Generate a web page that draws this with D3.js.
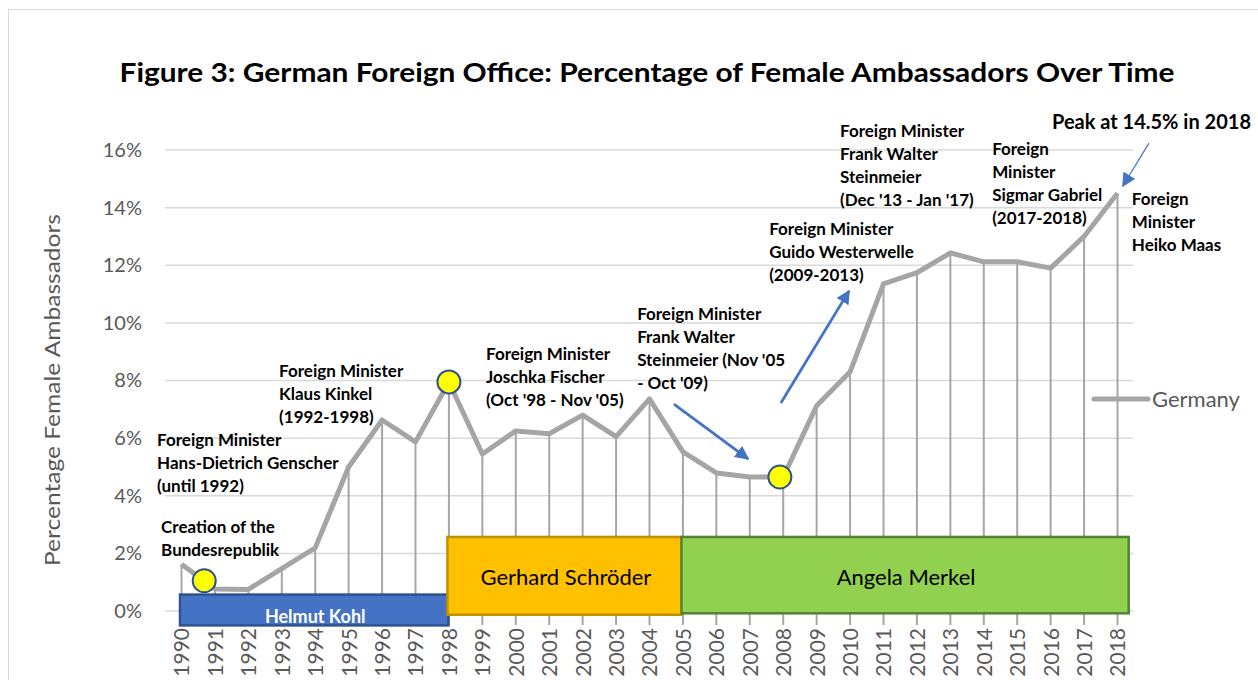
<!DOCTYPE html>
<html>
<head>
<meta charset="utf-8">
<script src="https://cdn.jsdelivr.net/npm/d3@7"></script>
<style>
  body { margin: 0; background: #fff; }
  svg { display: block; font-family: Lato, "Open Sans", sans-serif; }
  .note { font-weight: bold; fill: #000; }
</style>
</head>
<body>
<div id="chart"></div>
<script>
var svgWidth = 1258;
var svgHeight = 680;

// data
var years = [1990, 1991, 1992, 1993, 1994, 1995, 1996, 1997, 1998, 1999,
             2000, 2001, 2002, 2003, 2004, 2005, 2006, 2007, 2008, 2009,
             2010, 2011, 2012, 2013, 2014, 2015, 2016, 2017, 2018];
var germany = [1.62, 0.76, 0.75, 1.47, 2.19, 5.0, 6.63, 5.87, 7.95, 5.45,
               6.25, 6.15, 6.8, 6.05, 7.36, 5.52, 4.79, 4.65, 4.65, 7.12,
               8.3, 11.35, 11.74, 12.43, 12.12, 12.12, 11.9, 13.0, 14.5];
var yTicks = [0, 2, 4, 6, 8, 10, 12, 14, 16];

// chancellor terms
var termNames = ["Helmut Kohl", "Gerhard Schröder", "Angela Merkel"];
var termStart = [1990, 1998, 2005];
var termEnd = [1998, 2005, 2018.35];

// highlighted points
var markerYears = [1990.68, 1998, 2007.9];
var markerValues = [1.05, 7.95, 4.65];

// foreign minister notes
var noteLines = [
  ["Creation of the", "Bundesrepublik"],
  ["Foreign Minister", "Hans-Dietrich Genscher", "(until 1992)"],
  ["Foreign Minister", "Klaus Kinkel", "(1992-1998)"],
  ["Foreign Minister", "Joschka Fischer", "(Oct '98 - Nov '05)"],
  ["Foreign Minister", "Frank Walter", "Steinmeier (Nov '05", "- Oct '09)"],
  ["Foreign Minister", "Guido Westerwelle", "(2009-2013)"],
  ["Foreign Minister", "Frank Walter", "Steinmeier", "(Dec '13 - Jan '17)"],
  ["Foreign", "Minister", "Sigmar Gabriel", "(2017-2018)"],
  ["Peak at 14.5% in 2018"],
  ["Foreign", "Minister", "Heiko Maas"]
];
var noteYear = [1989.39, 1989.27, 1992.92, 1999.11, 2003.63, 2007.58, 2009.70, 2014.25, 2016.04, 2018.43];
var noteValue = [2.71, 5.73, 8.12, 8.71, 10.10, 13.05, 16.45, 15.83, 16.73, 14.09];

// arrows: [year, value] start -> end
var arrowFrom = [[2004.73, 7.18], [2007.93, 7.22], [2018.94, 16.24]];
var arrowTo = [[2006.95, 5.28], [2009.97, 11.11], [2018.16, 14.75]];

var svg = d3.select("#chart")
  .append("svg")
  .attr("width", svgWidth)
  .attr("height", svgHeight);

svg.append("defs").append("marker")
  .attr("id", "head")
  .attr("viewBox", "0 0 10 10")
  .attr("refX", 9)
  .attr("refY", 5)
  .attr("markerWidth", 5)
  .attr("markerHeight", 5)
  .attr("markerUnits", "strokeWidth")
  .attr("orient", "auto")
  .append("path")
  .attr("d", "M0,0 L10,5 L0,10 z")
  .attr("fill", "#4472c4");

svg.append("defs").append("marker")
  .attr("id", "headBig")
  .attr("viewBox", "0 0 10 10")
  .attr("refX", 9)
  .attr("refY", 5)
  .attr("markerWidth", 14)
  .attr("markerHeight", 14)
  .attr("markerUnits", "userSpaceOnUse")
  .attr("orient", "auto")
  .append("path")
  .attr("d", "M0,0 L10,5 L0,10 z")
  .attr("fill", "#4472c4");

// chart frame
svg.append("rect")
  .attr("x", 8.5).attr("y", 9.5)
  .attr("width", 1270).attr("height", 700)
  .attr("fill", "none")
  .attr("stroke", "#d9d9d9");

var x = d3.scaleLinear().domain([1990, 2018]).range([181.5, 1117.5]);
var y = d3.scaleLinear().domain([0, 16]).range([611, 150]);

// title
svg.append("text")
  .attr("x", 647)
  .attr("y", 82)
  .attr("text-anchor", "middle")
  .attr("font-size", 27)
  .attr("font-weight", "bold")
  .attr("textLength", 1055)
  .attr("lengthAdjust", "spacingAndGlyphs")
  .text("Figure 3: German Foreign Office: Percentage of Female Ambassadors Over Time");

// gridlines
svg.append("g")
  .selectAll("line")
  .data(yTicks)
  .enter()
  .append("line")
  .attr("x1", 165).attr("x2", 1133)
  .attr("y1", d => y(d)).attr("y2", d => y(d))
  .attr("stroke", "#d9d9d9")
  .attr("stroke-width", 1.5);

// y axis labels
var leftAxis = d3.axisLeft(y).tickValues(yTicks).tickFormat(d => d + "%").tickSize(0).tickPadding(0);
var yAxisG = svg.append("g")
  .attr("transform", "translate(142,0)")
  .call(leftAxis);
yAxisG.select(".domain").remove();
yAxisG.selectAll("text")
  .attr("font-family", "Lato, 'Open Sans', sans-serif")
  .attr("font-size", 20)
  .attr("fill", "#595959");

svg.append("text")
  .attr("transform", "translate(53,390) rotate(-90)")
  .attr("text-anchor", "middle")
  .attr("dy", "0.35em")
  .attr("font-size", 21)
  .attr("fill", "#595959")
  .attr("textLength", 352)
  .attr("lengthAdjust", "spacingAndGlyphs")
  .text("Percentage Female Ambassadors");

// x axis labels
var bottomAxis = d3.axisBottom(x).tickValues(years).tickFormat(d3.format("d")).tickSize(0);
var xAxisG = svg.append("g")
  .attr("transform", "translate(0,628)")
  .call(bottomAxis);
xAxisG.select(".domain").remove();
xAxisG.selectAll("text")
  .attr("font-family", "Lato, 'Open Sans', sans-serif")
  .attr("font-size", 21)
  .attr("fill", "#595959")
  .attr("text-anchor", "end")
  .attr("transform", "rotate(-90)")
  .attr("x", 0)
  .attr("y", 0)
  .attr("dx", 0)
  .attr("dy", "0.35em");

// drop lines
svg.append("g")
  .selectAll("line")
  .data(years)
  .enter()
  .append("line")
  .attr("x1", d => x(d)).attr("x2", d => x(d))
  .attr("y1", (d, i) => y(germany[i]))
  .attr("y2", y(0) + 14)
  .attr("stroke", "#a6a6a6")
  .attr("stroke-width", 2);

// series line
var line = d3.line()
  .x((d, i) => x(years[i]))
  .y(d => y(d));

svg.append("path")
  .datum(germany)
  .attr("d", line)
  .attr("fill", "none")
  .attr("stroke", "#a5a5a5")
  .attr("stroke-width", 5)
  .attr("stroke-linejoin", "round");

// term boxes
var termTop = [0.57, 2.57, 2.57];
var termBottom = [-0.5, -0.13, -0.08];
var termFill = ["#4472c4", "#ffc000", "#92d050"];
var termStroke = ["#2f528f", "#bf9000", "#548235"];
var boxes = svg.append("g").selectAll("g")
  .data(termNames)
  .enter()
  .append("g");

boxes.append("rect")
  .attr("x", (d, i) => x(termStart[i]) - 1.5)
  .attr("y", (d, i) => y(termTop[i]))
  .attr("width", (d, i) => x(termEnd[i]) - x(termStart[i]) + 1)
  .attr("height", (d, i) => y(termBottom[i]) - y(termTop[i]))
  .attr("fill", (d, i) => termFill[i])
  .attr("stroke", (d, i) => termStroke[i])
  .attr("stroke-width", 2.5);

boxes.append("text")
  .attr("x", (d, i) => (x(termStart[i]) + x(termEnd[i])) / 2)
  .attr("y", (d, i) => i === 0 ? 623 : 585)
  .attr("text-anchor", "middle")
  .attr("font-size", (d, i) => i === 0 ? 18 : 22)
  .attr("font-weight", (d, i) => i === 0 ? "bold" : "normal")
  .attr("fill", (d, i) => i === 0 ? "#fff" : "#000")
  .text(d => d);

// markers
svg.append("g")
  .selectAll("circle")
  .data(markerYears)
  .enter()
  .append("circle")
  .attr("cx", d => x(d))
  .attr("cy", (d, i) => y(markerValues[i]))
  .attr("r", 11.5)
  .attr("fill", "#ffff00")
  .attr("stroke", "#2f528f")
  .attr("stroke-width", 2);

// arrows
svg.append("g")
  .selectAll("line")
  .data(arrowFrom)
  .enter()
  .append("line")
  .attr("x1", d => x(d[0])).attr("y1", d => y(d[1]))
  .attr("x2", (d, i) => x(arrowTo[i][0])).attr("y2", (d, i) => y(arrowTo[i][1]))
  .attr("stroke", "#4472c4")
  .attr("stroke-width", (d, i) => i === 2 ? 1.2 : 2.8)
  .attr("marker-end", (d, i) => i === 2 ? "url(#headBig)" : "url(#head)");

// notes
var notes = svg.append("g").selectAll("text")
  .data(noteLines)
  .enter()
  .append("text")
  .attr("class", "note")
  .attr("font-size", (d, i) => i === 8 ? 20 : 17)
  .attr("x", (d, i) => x(noteYear[i]))
  .attr("y", (d, i) => y(noteValue[i]));

notes.selectAll("tspan")
  .data(d => d)
  .enter()
  .append("tspan")
  .attr("x", function() { return d3.select(this.parentNode).attr("x"); })
  .attr("dy", (d, i) => i === 0 ? 0 : 23)
  .text(d => d);

// legend
svg.append("line")
  .attr("x1", 1094).attr("x2", 1148)
  .attr("y1", 399).attr("y2", 399)
  .attr("stroke", "#a5a5a5")
  .attr("stroke-width", 5)
  .attr("stroke-linecap", "round");

svg.append("text")
  .attr("x", 1152)
  .attr("y", 407)
  .attr("font-size", 22)
  .attr("fill", "#595959")
  .text("Germany");
</script>
</body>
</html>
